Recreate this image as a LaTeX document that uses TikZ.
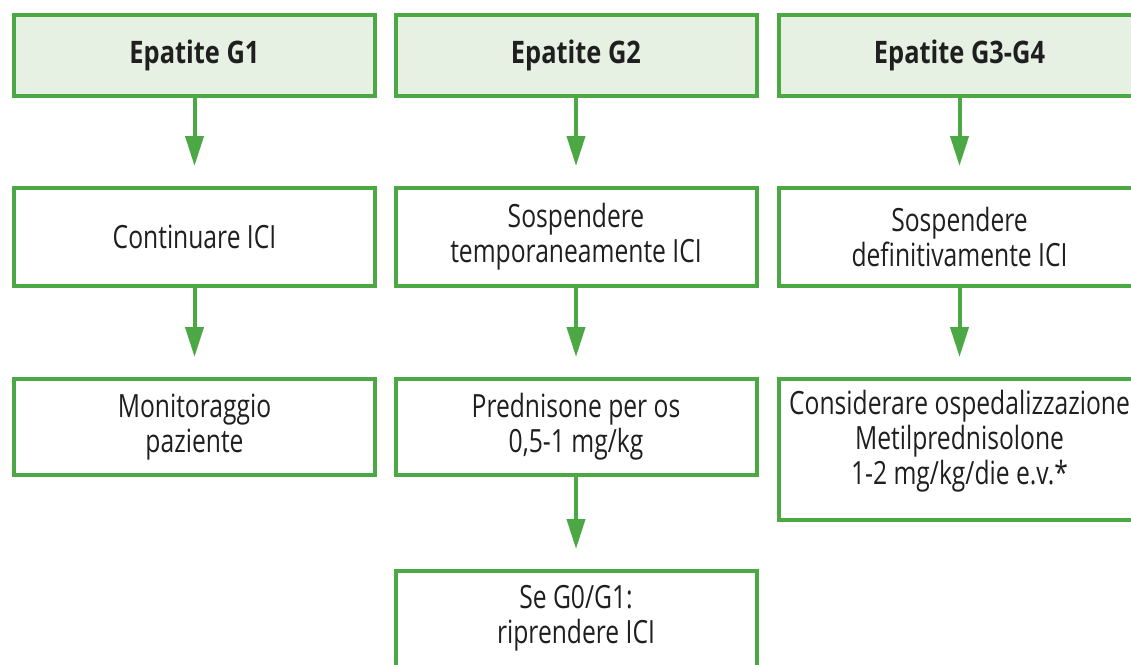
\documentclass[tikz,border=0pt]{standalone}
\usepackage{fontspec}
\setmainfont{Open Sans}[FakeStretch=0.77, BoldFeatures={FakeStretch=0.82}]
\usetikzlibrary{arrows.meta}
\definecolor{grn}{RGB}{76,168,68}
\definecolor{hdrfill}{RGB}{230,241,228}
\begin{document}
\begin{tikzpicture}[x=1pt,y=-1pt,
  txt/.style={align=center, font=\fontsize{32}{35}\selectfont, text=black!88, inner sep=0pt},
  box/.style={txt, draw=grn, line width=4pt, fill=white, minimum width=361pt, minimum height=98pt},
  hdr/.style={box, fill=hdrfill, minimum height=81pt, font=\fontsize{31}{35}\selectfont\bfseries},
  arr/.style={draw=grn, line width=4pt, -{Triangle[length=30pt,width=18pt]}, shorten >=20pt}]
\useasboundingbox (0,0) rectangle (1131,664);
\node[hdr] (h1) at (194.5,55.5) {Epatite G1};
\node[hdr] (h2) at (576,55.5) {Epatite G2};
\node[hdr] (h3) at (959.5,55.5) {Epatite G3-G4};
\node[box] (a1) at (194.5,237) {Continuare ICI};
\node[box] (a2) at (576,237) {Sospendere\\temporaneamente ICI};
\node[box] (a3) at (959.5,237) {Sospendere\\definitivamente ICI};
\node[box, minimum height=96pt] (b1) at (194.5,427) {Monitoraggio\\paziente};
\node[box, minimum height=96pt] (b2) at (576,427) {Prednisone per os\\0,5-1 mg/kg};
\node[box, minimum height=141pt] (b3) at (959.5,449.5) {};
\node[txt] (b3t) at (959.5,441) {Considerare ospedalizzazione\\Metilprednisolone\\1-2 mg/kg/die e.v.*};
\node[box, minimum height=110pt, anchor=north] (c2) at (576,569) {};
\node[txt] (c2t) at (576,618) {Se G0/G1:\\riprendere ICI};
\draw[arr] (h1.south) -- (a1.north);
\draw[arr] (h2.south) -- (a2.north);
\draw[arr] (h3.south) -- (a3.north);
\draw[arr] (a1.south) -- (b1.north);
\draw[arr] (a2.south) -- (b2.north);
\draw[arr] (a3.south) -- (b3.north);
\draw[arr] (b2.south) -- (c2.north);
\end{tikzpicture}
\end{document}
